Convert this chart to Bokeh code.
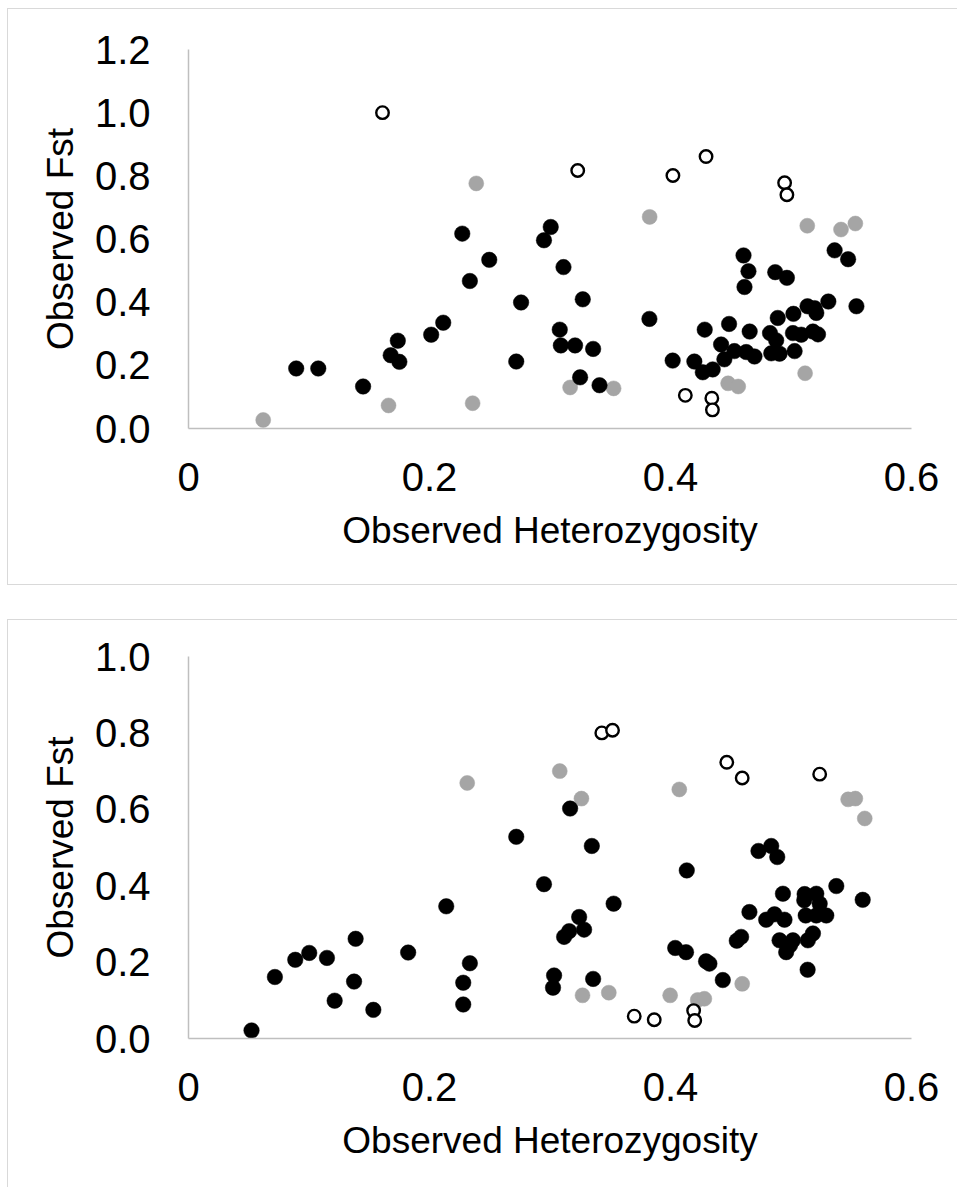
from bokeh.plotting import figure
from bokeh.models import ColumnDataSource, Range1d, Spacer, FixedTicker, CustomJSTickFormatter
from bokeh.layouts import column, row
from bokeh.embed import file_html
from bokeh.resources import INLINE

# ---- Panel A: observed heterozygosity vs observed Fst ----
a_black_x = [0.0894, 0.1077, 0.1449, 0.1678, 0.1737, 0.1750, 0.2014, 0.2114, 0.2272, 0.2335,
             0.2496, 0.2720, 0.2760, 0.2950, 0.3006, 0.3112, 0.3081, 0.3090, 0.3208, 0.3272,
             0.3250, 0.3358, 0.3411, 0.3825, 0.4018, 0.4198, 0.4268, 0.4350, 0.4284, 0.4486,
             0.4420, 0.4447, 0.4530, 0.4628, 0.4697, 0.4657, 0.4606, 0.4647, 0.4614, 0.4869,
             0.4966, 0.4890, 0.5020, 0.5137, 0.5210, 0.5310, 0.5362, 0.5474, 0.5543, 0.4826,
             0.4877, 0.4836, 0.4905, 0.5016, 0.5030, 0.5085, 0.5224, 0.5182, 0.5196]
a_black_y = [0.190, 0.190, 0.133, 0.232, 0.278, 0.211, 0.297, 0.335, 0.617, 0.467,
             0.534, 0.212, 0.399, 0.596, 0.638, 0.511, 0.313, 0.263, 0.263, 0.409,
             0.162, 0.252, 0.137, 0.347, 0.215, 0.212, 0.178, 0.187, 0.313, 0.331,
             0.266, 0.219, 0.245, 0.242, 0.228, 0.307, 0.548, 0.498, 0.448, 0.495,
             0.477, 0.350, 0.363, 0.387, 0.366, 0.402, 0.564, 0.536, 0.387, 0.302,
             0.279, 0.238, 0.237, 0.302, 0.245, 0.297, 0.298, 0.307, 0.381]
a_grey_x = [0.0620, 0.1660, 0.2358, 0.2388, 0.3167, 0.3528, 0.3827, 0.4478, 0.4562, 0.5117,
            0.5135, 0.5415, 0.5534]
a_grey_y = [0.027, 0.073, 0.080, 0.776, 0.130, 0.127, 0.670, 0.143, 0.133, 0.175,
            0.642, 0.630, 0.649]
a_open_x = [0.1610, 0.3230, 0.4020, 0.4295, 0.4947, 0.4966, 0.4123, 0.4343, 0.4348]
a_open_y = [1.000, 0.817, 0.801, 0.861, 0.778, 0.740, 0.105, 0.096, 0.059]

# ---- Panel B ----
b_black_x = [0.0523, 0.0717, 0.0886, 0.1002, 0.1149, 0.1213, 0.1374, 0.1387, 0.1534, 0.1823,
             0.2139, 0.2280, 0.2280, 0.2335, 0.2720, 0.2950, 0.3025, 0.3034, 0.3117, 0.3159,
             0.3167, 0.3242, 0.3283, 0.3347, 0.3358, 0.3528, 0.4039, 0.4129, 0.4135, 0.4295,
             0.4323, 0.4434, 0.4550, 0.4586, 0.4655, 0.4730, 0.4836, 0.4886, 0.4933, 0.4794,
             0.4863, 0.4946, 0.4905, 0.5016, 0.4960, 0.4992, 0.5113, 0.5210, 0.5110, 0.5238,
             0.5122, 0.5210, 0.5293, 0.5182, 0.5140, 0.5138, 0.5376, 0.5595]
b_black_y = [0.021, 0.161, 0.206, 0.224, 0.211, 0.099, 0.149, 0.261, 0.075, 0.225,
             0.346, 0.089, 0.146, 0.197, 0.528, 0.404, 0.133, 0.165, 0.266, 0.281,
             0.602, 0.318, 0.285, 0.504, 0.156, 0.353, 0.237, 0.226, 0.440, 0.202,
             0.196, 0.153, 0.256, 0.266, 0.331, 0.491, 0.504, 0.475, 0.379, 0.311,
             0.325, 0.311, 0.257, 0.257, 0.226, 0.244, 0.378, 0.379, 0.362, 0.353,
             0.322, 0.322, 0.322, 0.275, 0.257, 0.180, 0.399, 0.363]
b_grey_x = [0.2313, 0.3081, 0.3261, 0.4073, 0.5474, 0.5534, 0.5612, 0.3270, 0.3488, 0.3997,
            0.4226, 0.4281, 0.4595]
b_grey_y = [0.669, 0.700, 0.628, 0.652, 0.626, 0.628, 0.576, 0.113, 0.120, 0.113,
            0.101, 0.104, 0.143]
b_open_x = [0.3430, 0.3519, 0.4467, 0.4595, 0.5238, 0.3699, 0.3865, 0.4192, 0.4201]
b_open_y = [0.800, 0.807, 0.723, 0.682, 0.692, 0.0585, 0.049, 0.073, 0.047]

x_ticks = [0, 0.2, 0.4, 0.6]
a_y_ticks = [0.0, 0.2, 0.4, 0.6, 0.8, 1.0, 1.2]
b_y_ticks = [0.0, 0.2, 0.4, 0.6, 0.8, 1.0]

FONT = "Liberation Sans"
AXIS_GREY = "#BFBFBF"
BORDER_GREY = "#D9D9D9"
DOT_GREY = "#A5A5A5"


def make_panel(bx, by, gx, gy, ox, oy, y_max, y_ticks, frame_h, top, bottom, border_css):
    p = figure(output_backend="svg", toolbar_location=None,
               x_range=Range1d(0, 0.6), y_range=Range1d(0, y_max),
               frame_width=722, frame_height=frame_h,
               min_border_left=180, min_border_right=47,
               min_border_top=top, min_border_bottom=bottom,
               background_fill_color="white", border_fill_color="white")
    p.outline_line_color = None
    p.grid.visible = False
    p.styles = border_css

    p.xaxis.ticker = FixedTicker(ticks=x_ticks)
    p.xaxis.formatter = CustomJSTickFormatter(code="return tick == 0 ? '0' : tick.toFixed(1);")
    p.yaxis.ticker = FixedTicker(ticks=y_ticks)
    p.yaxis.formatter = CustomJSTickFormatter(code="return tick.toFixed(1);")

    for ax in (p.xaxis, p.yaxis):
        ax.axis_line_color = AXIS_GREY
        ax.axis_line_width = 1.5
        ax.major_tick_line_color = None
        ax.minor_tick_line_color = None
        ax.major_label_text_font = FONT
        ax.major_label_text_font_size = "40px"
        ax.major_label_text_color = "#000000"
        ax.axis_label_text_font = FONT
        ax.axis_label_text_font_size = "37px"
        ax.axis_label_text_font_style = "normal"
        ax.axis_label_text_color = "#000000"

    p.xaxis.axis_label = "Observed Heterozygosity"
    p.xaxis.major_label_standoff = 28
    p.xaxis.axis_label_standoff = 16
    p.yaxis.axis_label = "Observed Fst"
    p.yaxis.major_label_standoff = 32
    p.yaxis.axis_label_standoff = 11

    grey = ColumnDataSource(dict(x=gx, y=gy))
    hollow = ColumnDataSource(dict(x=ox, y=oy))
    black = ColumnDataSource(dict(x=bx, y=by))
    p.scatter("x", "y", source=grey, marker="circle", size=15,
              fill_color=DOT_GREY, line_color=DOT_GREY, line_width=0.5)
    p.scatter("x", "y", source=hollow, marker="circle", size=12.5,
              fill_color="white", line_color="black", line_width=2.4)
    p.scatter("x", "y", source=black, marker="circle", size=15.5,
              fill_color="black", line_color="black", line_width=0.5)
    return p


p1 = make_panel(a_black_x, a_black_y, a_grey_x, a_grey_y, a_open_x, a_open_y,
                1.2, a_y_ticks, 377, 40, 158,
                {"border-top": f"1px solid {BORDER_GREY}",
                 "border-left": f"1px solid {BORDER_GREY}",
                 "border-bottom": f"1px solid {BORDER_GREY}"})
p2 = make_panel(b_black_x, b_black_y, b_grey_x, b_grey_y, b_open_x, b_open_y,
                1.0, b_y_ticks, 381, 36, 150,
                {"border-top": f"1px solid {BORDER_GREY}",
                 "border-left": f"1px solid {BORDER_GREY}"})

layout = row(Spacer(width=7),
             column(Spacer(height=8), p1, Spacer(height=34), p2, spacing=0),
             spacing=0)

open("out.html", "w").write(file_html(layout, INLINE))
